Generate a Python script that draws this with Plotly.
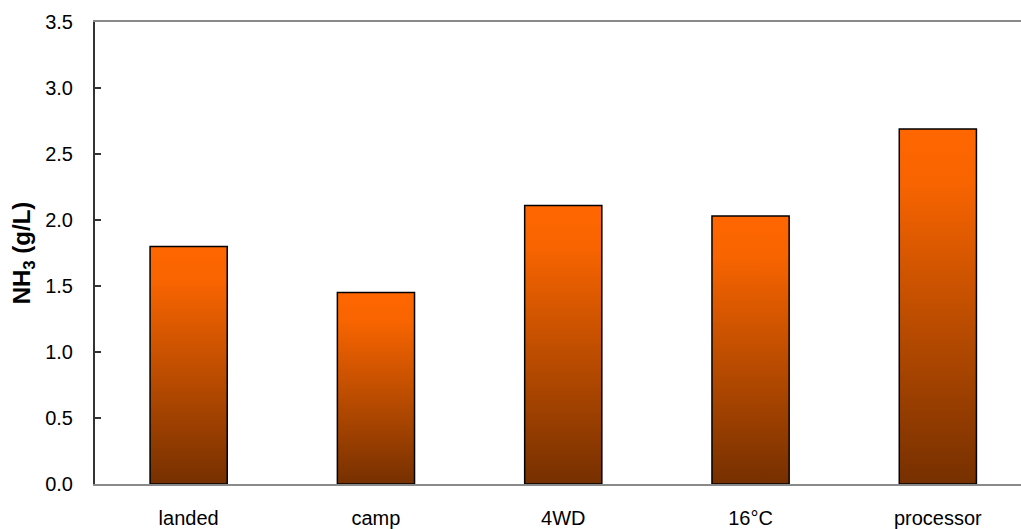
import plotly.graph_objects as go

categories = ["landed", "camp", "4WD", "16°C", "processor"]
values = [1.80, 1.45, 2.11, 2.03, 2.69]
y_ticks = [0.0, 0.5, 1.0, 1.5, 2.0, 2.5, 3.0, 3.5]

half_w = 0.206
grad = [[0, "#763000"], [0.5, "#C24F00"], [0.85, "#F86400"], [1, "#FF6600"]]

fig = go.Figure()
for i, (c, v) in enumerate(zip(categories, values)):
    fig.add_trace(go.Scatter(
        x=[i - half_w, i + half_w, i + half_w, i - half_w, i - half_w],
        y=[0, 0, v, v, 0],
        mode="lines",
        fill="toself",
        fillgradient=dict(type="vertical", colorscale=grad),
        line=dict(color="#000000", width=1.5),
        name=c,
        showlegend=False,
        hoverinfo="skip",
    ))

fig.update_layout(
    width=1021, height=529,
    margin=dict(l=95, r=0, t=22, b=42),
    plot_bgcolor="white", paper_bgcolor="white",
    font=dict(family="Liberation Sans, Arial, sans-serif", size=20, color="#000"),
    xaxis=dict(
        range=[-0.5, -0.5 + 926 / 187.3],
        tickvals=list(range(len(categories))),
        ticktext=categories,
        showgrid=False, zeroline=False,
        showline=True, linecolor="#8a8a8a", linewidth=1.5, mirror=True,
        ticks="", ticklabelstandoff=15,
        tickfont=dict(size=20),
    ),
    yaxis=dict(
        range=[0, 3.5],
        tickvals=y_ticks,
        ticktext=[f"{t:.1f}" for t in y_ticks],
        showgrid=False, zeroline=False,
        showline=True, linecolor="#333333", linewidth=2,
        ticks="inside", ticklen=6, tickcolor="#333333", tickwidth=1.5,
        ticklabelstandoff=16,
        tickfont=dict(size=20),
        title=dict(text="<b>NH<sub>3</sub> (g/L)</b>", font=dict(size=24), standoff=8),
    ),
)

fig.write_html("out.html", config={"displayModeBar": False},
               post_script="document.body.style.margin='0px';")
